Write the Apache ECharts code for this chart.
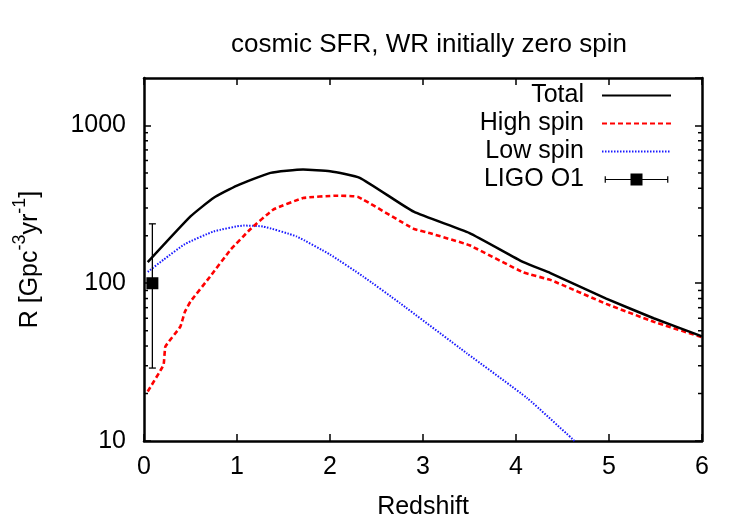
<!DOCTYPE html>
<html>
<head>
<meta charset="utf-8">
<script src="https://cdn.jsdelivr.net/npm/echarts@6/dist/echarts.min.js"></script>
<style>
    html, body { margin: 0; padding: 0; background: #fff; }
    #chart { width: 750px; height: 525px; }
</style>
</head>
<body>
<div id="chart"></div>
<script>
/* curves: redshift, rate [Gpc^-3 yr^-1] */
var zTotal = [0.04, 0.5, 0.75, 1.0, 1.36, 1.71, 2.0, 2.32, 2.9, 3.5, 4.08, 4.37, 4.97, 5.48, 6.0];
var rTotal = [136, 265, 348, 416, 501, 526, 513, 466, 284, 208, 136, 116, 80, 60, 46];

var zHigh = [0.04, 0.21, 0.23, 0.39, 0.44, 0.5, 0.71, 0.93, 1.14, 1.39, 1.71, 2.07, 2.3, 2.9, 3.07, 3.5, 4.08, 4.37, 4.97, 5.48, 6.0];
var rHigh = [20.6, 30.4, 39.7, 53, 66, 76.6, 110, 163, 219, 293, 347, 359, 353, 221, 208, 174, 117, 105, 74, 57, 45.5];

var zLow = [0.04, 0.21, 0.44, 0.75, 1.07, 1.28, 1.64, 2.0, 2.36, 2.75, 3.47, 4.12, 4.63];
var rLow = [118, 141, 177, 213, 232, 229, 198, 152, 110, 75, 36, 18.7, 10];

/* LIGO O1 point with error bar */
var ligoZ = 0.09;
var ligoR = 100;
var ligoLow = 29;
var ligoHigh = 238;

var xTicks = [0, 1, 2, 3, 4, 5, 6];
var minorTickValues = [20, 30, 40, 50, 60, 70, 80, 90, 200, 300, 400, 500, 600, 700, 800, 900];

var fontName = 'Liberation Sans';
var labelSize = 25;

function pairs(xs, ys) {
    var out = [];
    for (var i = 0; i < xs.length; i++) {
        out.push([xs[i], ys[i]]);
    }
    return out;
}

var myChart = echarts.init(document.getElementById('chart'), null, { renderer: 'canvas' });

var hideSymbol = { opacity: 0 };

var option = {
    backgroundColor: '#fff',
    animation: false,
    textStyle: { fontFamily: fontName, color: '#000' },
    title: {
        text: 'cosmic SFR, WR initially zero spin',
        left: 424,
        top: 27,
        textAlign: 'center',
        textStyle: { fontSize: 26, fontWeight: 'normal', color: '#000', fontFamily: fontName }
    },
    legend: {
        right: 78,
        top: 83,
        orient: 'vertical',
        align: 'right',
        padding: 0,
        itemWidth: 69,
        itemHeight: 12,
        itemGap: 3,
        selectedMode: false,
        textStyle: { fontSize: labelSize, color: '#000', fontFamily: fontName, lineHeight: 24, padding: [0, 13, 0, 0] },
        data: [
            { name: 'Total', itemStyle: hideSymbol },
            { name: 'High spin', itemStyle: hideSymbol },
            { name: 'Low spin', itemStyle: hideSymbol },
            { name: 'LIGO O1', icon: 'path://M0,5.4H69V6.6H0Z M0,2.5H1.3V9.5H0Z M67.7,2.5H69V9.5H67.7Z M28,-0.5H41V12.5H28Z' }
        ]
    },
    grid: { left: 144, right: 48, top: 78, bottom: 84 },
    xAxis: [
        {
            type: 'value',
            min: 0,
            max: 6,
            interval: 1,
            name: 'Redshift',
            nameLocation: 'middle',
            nameGap: 54,
            nameTextStyle: { fontSize: labelSize, color: '#000', fontFamily: fontName },
            axisLine: { show: true, onZero: false, lineStyle: { color: '#000', width: 2.5 } },
            axisTick: { show: true, inside: true, length: 7, lineStyle: { color: '#000', width: 1.5 } },
            axisLabel: { fontSize: labelSize, color: '#000', margin: 14, fontFamily: fontName },
            splitLine: { show: false }
        },
        {
            type: 'value',
            position: 'top',
            min: 0,
            max: 6,
            interval: 1,
            axisLine: { show: true, onZero: false, lineStyle: { color: '#000', width: 2.5 } },
            axisTick: { show: true, inside: true, length: 7, lineStyle: { color: '#000', width: 1.5 } },
            axisLabel: { show: false },
            splitLine: { show: false }
        }
    ],
    yAxis: [
        {
            type: 'log',
            logBase: 10,
            min: 10,
            max: 2000,
            name: '{n|R [Gpc}{s|-3}{n|yr}{s|-1}{n|]}',
            nameLocation: 'middle',
            nameGap: 101,
            nameTextStyle: {
                fontFamily: fontName,
                rich: {
                    n: { fontSize: labelSize, color: '#000', fontFamily: fontName, lineHeight: 32, verticalAlign: 'bottom' },
                    s: { fontSize: 18, color: '#000', fontFamily: fontName, lineHeight: 32, verticalAlign: 'top' }
                }
            },
            axisLine: { show: true, onZero: false, lineStyle: { color: '#000', width: 2.5 } },
            axisTick: { show: true, inside: true, length: 7, lineStyle: { color: '#000', width: 1.5 } },
            axisLabel: {
                fontSize: labelSize, color: '#000', margin: 18, fontFamily: fontName, showMaxLabel: false,
                formatter: function (v) { return String(Math.round(v)); }
            },
            splitLine: { show: false }
        },
        {
            type: 'log',
            logBase: 10,
            min: 10,
            max: 2000,
            position: 'right',
            axisLine: { show: true, onZero: false, lineStyle: { color: '#000', width: 2.5 } },
            axisTick: { show: true, inside: true, length: 7, lineStyle: { color: '#000', width: 1.5 } },
            axisLabel: { show: false },
            splitLine: { show: false }
        }
    ],
    series: [
        {
            name: 'Total',
            type: 'line',
            symbol: 'none',
            smooth: 0.15,
            color: '#000',
            lineStyle: { color: '#000', width: 2.5 },
            data: pairs(zTotal, rTotal),
            z: 4
        },
        {
            name: 'High spin',
            type: 'line',
            symbol: 'none',
            smooth: 0.1,
            color: '#ff0000',
            lineStyle: { color: '#ff0000', width: 2.6, type: [5, 3] },
            data: pairs(zHigh, rHigh),
            z: 3
        },
        {
            name: 'Low spin',
            type: 'line',
            symbol: 'none',
            smooth: 0.15,
            color: '#1a1aff',
            lineStyle: { color: '#1a1aff', width: 2, type: [1.5, 1.5] },
            data: pairs(zLow, rLow),
            z: 2
        },
        {
            name: 'LIGO O1',
            type: 'custom',
            color: '#000',
            silent: true,
            data: [[ligoZ, ligoLow, ligoHigh]],
            renderItem: function (params, api) {
                var lo = api.coord([api.value(0), api.value(1)]);
                var hi = api.coord([api.value(0), api.value(2)]);
                var cap = 3.5;
                var st = { stroke: '#000', lineWidth: 1.3 };
                return {
                    type: 'group',
                    children: [
                        { type: 'line', shape: { x1: lo[0], y1: lo[1], x2: hi[0], y2: hi[1] }, style: st },
                        { type: 'line', shape: { x1: lo[0] - cap, y1: lo[1], x2: lo[0] + cap, y2: lo[1] }, style: st },
                        { type: 'line', shape: { x1: hi[0] - cap, y1: hi[1], x2: hi[0] + cap, y2: hi[1] }, style: st }
                    ]
                };
            },
            z: 5
        },
        {
            name: 'LIGO O1',
            type: 'scatter',
            symbol: 'rect',
            symbolSize: 12,
            itemStyle: { color: '#000', opacity: 1 },
            data: [[ligoZ, ligoR]],
            z: 6
        },
        {
            /* log-spaced minor ticks on left and right frame */
            name: 'minorTicks',
            type: 'custom',
            silent: true,
            clip: false,
            data: minorTickValues.map(function (v) { return [xTicks[0], v]; }),
            renderItem: function (params, api) {
                var v = api.value(1);
                var l = api.coord([xTicks[0], v]);
                var r = api.coord([xTicks[xTicks.length - 1], v]);
                var st = { stroke: '#000', lineWidth: 1.5 };
                return {
                    type: 'group',
                    children: [
                        { type: 'line', shape: { x1: l[0], y1: l[1], x2: l[0] + 4, y2: l[1] }, style: st },
                        { type: 'line', shape: { x1: r[0] - 4, y1: r[1], x2: r[0], y2: r[1] }, style: st }
                    ]
                };
            },
            z: 1
        }
    ]
};

myChart.setOption(option);
</script>
</body>
</html>
